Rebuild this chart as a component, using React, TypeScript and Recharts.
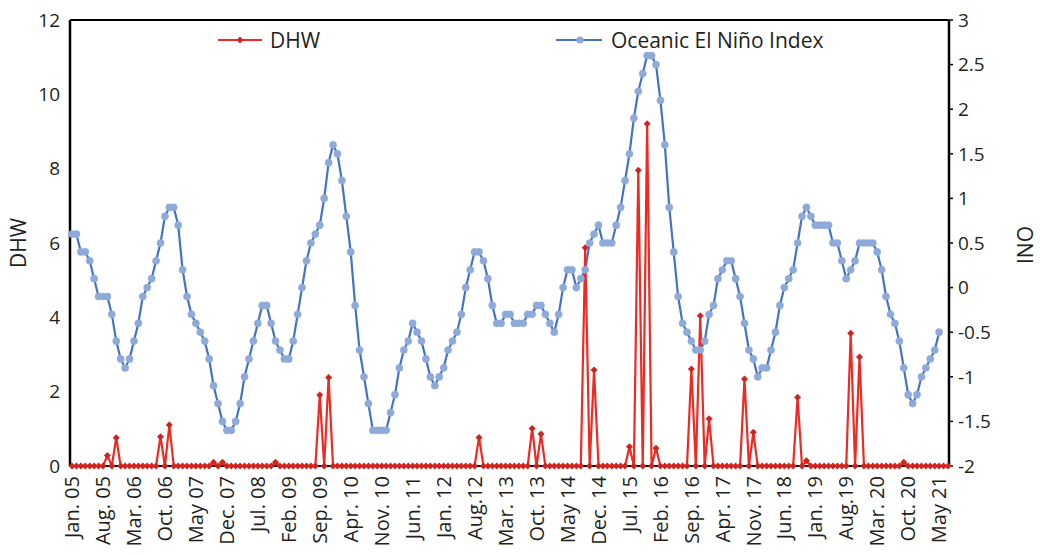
import { ComposedChart, Line, XAxis, YAxis, ReferenceLine } from 'recharts'

// x-axis tick labels, one every 7 months starting Jan 2005
const tickLabels = [
  'Jan. 05', 'Aug. 05', 'Mar. 06', 'Oct. 06', 'May 07', 'Dec. 07', 'Jul. 08', 'Feb. 09',
  'Sep. 09', 'Apr. 10', 'Nov. 10', 'Jun. 11', 'Jan. 12', 'Aug.12', 'Mar. 13', 'Oct. 13',
  'May 14', 'Dec. 14', 'Jul. 15', 'Feb. 16', 'Sep. 16', 'Apr. 17', 'Nov. 17', 'Jun. 18',
  'Jan. 19', 'Aug.19', 'Mar. 20', 'Oct. 20', 'May 21',
]

// Oceanic El Niño Index, monthly (Jan..Dec)
const ino2005 = [0.6, 0.6, 0.4, 0.4, 0.3, 0.1, -0.1, -0.1, -0.1, -0.3, -0.6, -0.8]
const ino2006 = [-0.9, -0.8, -0.6, -0.4, -0.1, 0.0, 0.1, 0.3, 0.5, 0.8, 0.9, 0.9]
const ino2007 = [0.7, 0.2, -0.1, -0.3, -0.4, -0.5, -0.6, -0.8, -1.1, -1.3, -1.5, -1.6]
const ino2008 = [-1.6, -1.5, -1.3, -1.0, -0.8, -0.6, -0.4, -0.2, -0.2, -0.4, -0.6, -0.7]
const ino2009 = [-0.8, -0.8, -0.6, -0.3, 0.0, 0.3, 0.5, 0.6, 0.7, 1.0, 1.4, 1.6]
const ino2010 = [1.5, 1.2, 0.8, 0.4, -0.2, -0.7, -1.0, -1.3, -1.6, -1.6, -1.6, -1.6]
const ino2011 = [-1.4, -1.2, -0.9, -0.7, -0.6, -0.4, -0.5, -0.6, -0.8, -1.0, -1.1, -1.0]
const ino2012 = [-0.9, -0.7, -0.6, -0.5, -0.3, 0.0, 0.2, 0.4, 0.4, 0.3, 0.1, -0.2]
const ino2013 = [-0.4, -0.4, -0.3, -0.3, -0.4, -0.4, -0.4, -0.3, -0.3, -0.2, -0.2, -0.3]
const ino2014 = [-0.4, -0.5, -0.3, 0.0, 0.2, 0.2, 0.0, 0.1, 0.2, 0.5, 0.6, 0.7]
const ino2015 = [0.5, 0.5, 0.5, 0.7, 0.9, 1.2, 1.5, 1.9, 2.2, 2.4, 2.6, 2.6]
const ino2016 = [2.5, 2.1, 1.6, 0.9, 0.4, -0.1, -0.4, -0.5, -0.6, -0.7, -0.7, -0.6]
const ino2017 = [-0.3, -0.2, 0.1, 0.2, 0.3, 0.3, 0.1, -0.1, -0.4, -0.7, -0.8, -1.0]
const ino2018 = [-0.9, -0.9, -0.7, -0.5, -0.2, 0.0, 0.1, 0.2, 0.5, 0.8, 0.9, 0.8]
const ino2019 = [0.7, 0.7, 0.7, 0.7, 0.5, 0.5, 0.3, 0.1, 0.2, 0.3, 0.5, 0.5]
const ino2020 = [0.5, 0.5, 0.4, 0.2, -0.1, -0.3, -0.4, -0.6, -0.9, -1.2, -1.3, -1.2]
const ino2021 = [-1.0, -0.9, -0.8, -0.7, -0.5]

// Degree heating weeks, monthly (2021 runs to Jul)
const dhw2005 = [0, 0, 0, 0, 0, 0, 0, 0, 0.28, 0, 0.76, 0]
const dhw2006 = [0, 0, 0, 0, 0, 0, 0, 0, 0.79, 0, 1.1, 0]
const dhw2007 = [0, 0, 0, 0, 0, 0, 0, 0, 0.1, 0, 0.1, 0]
const dhw2008 = [0, 0, 0, 0, 0, 0, 0, 0, 0, 0, 0.1, 0]
const dhw2009 = [0, 0, 0, 0, 0, 0, 0, 0, 1.91, 0, 2.38, 0]
const dhw2010 = [0, 0, 0, 0, 0, 0, 0, 0, 0, 0, 0, 0]
const dhw2011 = [0, 0, 0, 0, 0, 0, 0, 0, 0, 0, 0, 0]
const dhw2012 = [0, 0, 0, 0, 0, 0, 0, 0, 0.77, 0, 0, 0]
const dhw2013 = [0, 0, 0, 0, 0, 0, 0, 0, 1.01, 0, 0.86, 0]
const dhw2014 = [0, 0, 0, 0, 0, 0, 0, 0, 5.87, 0, 2.58, 0]
const dhw2015 = [0, 0, 0, 0, 0, 0, 0.52, 0, 7.96, 0, 9.21, 0]
const dhw2016 = [0.48, 0, 0, 0, 0, 0, 0, 0, 2.61, 0, 4.04, 0]
const dhw2017 = [1.27, 0, 0, 0, 0, 0, 0, 0, 2.34, 0, 0.91, 0]
const dhw2018 = [0, 0, 0, 0, 0, 0, 0, 0, 1.85, 0, 0.14, 0]
const dhw2019 = [0, 0, 0, 0, 0, 0, 0, 0, 3.57, 0, 2.93, 0]
const dhw2020 = [0, 0, 0, 0, 0, 0, 0, 0, 0.1, 0, 0, 0]
const dhw2021 = [0, 0, 0, 0, 0, 0, 0]

const ino = [
  ...ino2005, ...ino2006, ...ino2007, ...ino2008, ...ino2009, ...ino2010, ...ino2011, ...ino2012, ...ino2013,
  ...ino2014, ...ino2015, ...ino2016, ...ino2017, ...ino2018, ...ino2019, ...ino2020, ...ino2021,
]
const dhw = [
  ...dhw2005, ...dhw2006, ...dhw2007, ...dhw2008, ...dhw2009, ...dhw2010, ...dhw2011, ...dhw2012, ...dhw2013,
  ...dhw2014, ...dhw2015, ...dhw2016, ...dhw2017, ...dhw2018, ...dhw2019, ...dhw2020, ...dhw2021,
]

const data = dhw.map((v, i) => ({ m: i, dhw: v, ino: i < ino.length ? ino[i] : null }))

const RED = '#ee2a22'
const RED_DOT = '#d0241f'
const BLUE = '#4472c4'
const BLUE_DOT = '#8eaadb'
const TEXT = '#231f20'
const FONT = "'Open Sans', sans-serif"

const Diamond = (props: any) => {
  const { cx, cy, index } = props
  if (cx == null || cy == null) return <g key={index} />
  const s = 3.5
  return (
    <path
      key={index}
      d={`M${cx},${cy - s}L${cx + s},${cy}L${cx},${cy + s}L${cx - s},${cy}Z`}
      fill={RED_DOT}
    />
  )
}

const XTick = (props: any) => {
  const { x, y, payload } = props
  const label = tickLabels[Math.round(payload.value / 7)]
  const ty = y + 2
  return (
    <text
      x={x}
      y={ty}
      transform={`rotate(-90, ${x}, ${ty})`}
      textAnchor="end"
      dy="0.36em"
      fontSize={20}
      fill={TEXT}
    >
      {label}
    </text>
  )
}

export default function App() {
  return (
    <div style={{ position: 'relative', width: 1040, height: 555, fontFamily: FONT, background: '#fff' }}>
      <style>{'body{margin:0}'}</style>
      <ComposedChart
        width={1040}
        height={555}
        data={data}
        margin={{ top: 20, right: 31, bottom: 9, left: 20 }}
      >
        <XAxis
          dataKey="m"
          type="number"
          domain={[0, 198]}
          ticks={tickLabels.map((_, k) => k * 7)}
          interval={0}
          tick={<XTick />}
          tickLine={false}
          axisLine={{ stroke: '#000', strokeWidth: 2 }}
          height={80}
          padding={{ left: 2, right: 1 }}
        />
        <YAxis
          yAxisId="l"
          domain={[0, 12]}
          ticks={[0, 2, 4, 6, 8, 10, 12]}
          width={50}
          tickLine={false}
          tickMargin={4}
          axisLine={{ stroke: '#000', strokeWidth: 2.5 }}
          tick={{ fill: TEXT, fontSize: 19 }}
        />
        <YAxis
          yAxisId="r"
          orientation="right"
          domain={[-2, 3]}
          ticks={[-2, -1.5, -1, -0.5, 0, 0.5, 1, 1.5, 2, 2.5, 3]}
          width={60}
          tickSize={4}
          tickMargin={5}
          tickLine={{ stroke: '#000', strokeWidth: 1.5 }}
          axisLine={{ stroke: '#000', strokeWidth: 2.5 }}
          tick={{ fill: TEXT, fontSize: 19 }}
        />
        <ReferenceLine yAxisId="l" y={12} stroke="#000" strokeWidth={2} />
        <Line
          yAxisId="r"
          dataKey="ino"
          type="linear"
          stroke={BLUE}
          strokeWidth={2.2}
          dot={{ r: 3.6, fill: BLUE_DOT, stroke: BLUE_DOT, strokeWidth: 0.5 }}
          activeDot={false}
          isAnimationActive={false}
        />
        <Line
          yAxisId="l"
          dataKey="dhw"
          type="linear"
          stroke={RED}
          strokeWidth={2.2}
          dot={Diamond}
          activeDot={false}
          isAnimationActive={false}
        />
      </ComposedChart>

      {/* legend */}
      <div style={{ position: 'absolute', left: 216, top: 26, height: 28, display: 'flex', alignItems: 'center' }}>
        <svg width={48} height={28}>
          <line x1={2} y1={14} x2={46} y2={14} stroke={RED} strokeWidth={2} />
          <path d="M24,10.6L27.4,14L24,17.4L20.6,14Z" fill={RED_DOT} />
        </svg>
        <span style={{ marginLeft: 6, fontSize: 21, color: TEXT }}>DHW</span>
      </div>
      <div style={{ position: 'absolute', left: 554, top: 26, height: 28, display: 'flex', alignItems: 'center' }}>
        <svg width={50} height={28}>
          <line x1={2} y1={14} x2={48} y2={14} stroke={BLUE} strokeWidth={2.2} />
          <circle cx={26} cy={14} r={3.6} fill={BLUE_DOT} />
        </svg>
        <span style={{ marginLeft: 7, fontSize: 21, color: TEXT }}>Oceanic El Niño Index</span>
      </div>

      {/* axis titles */}
      <div
        style={{
          position: 'absolute', left: -22, top: 229, width: 80, height: 28, lineHeight: '28px',
          textAlign: 'center', fontSize: 21, color: TEXT, transform: 'rotate(-90deg)',
        }}
      >
        DHW
      </div>
      <div
        style={{
          position: 'absolute', left: 985, top: 231, width: 80, height: 28, lineHeight: '28px',
          textAlign: 'center', fontSize: 21, color: TEXT, transform: 'rotate(-90deg)',
        }}
      >
        INO
      </div>
    </div>
  )
}
